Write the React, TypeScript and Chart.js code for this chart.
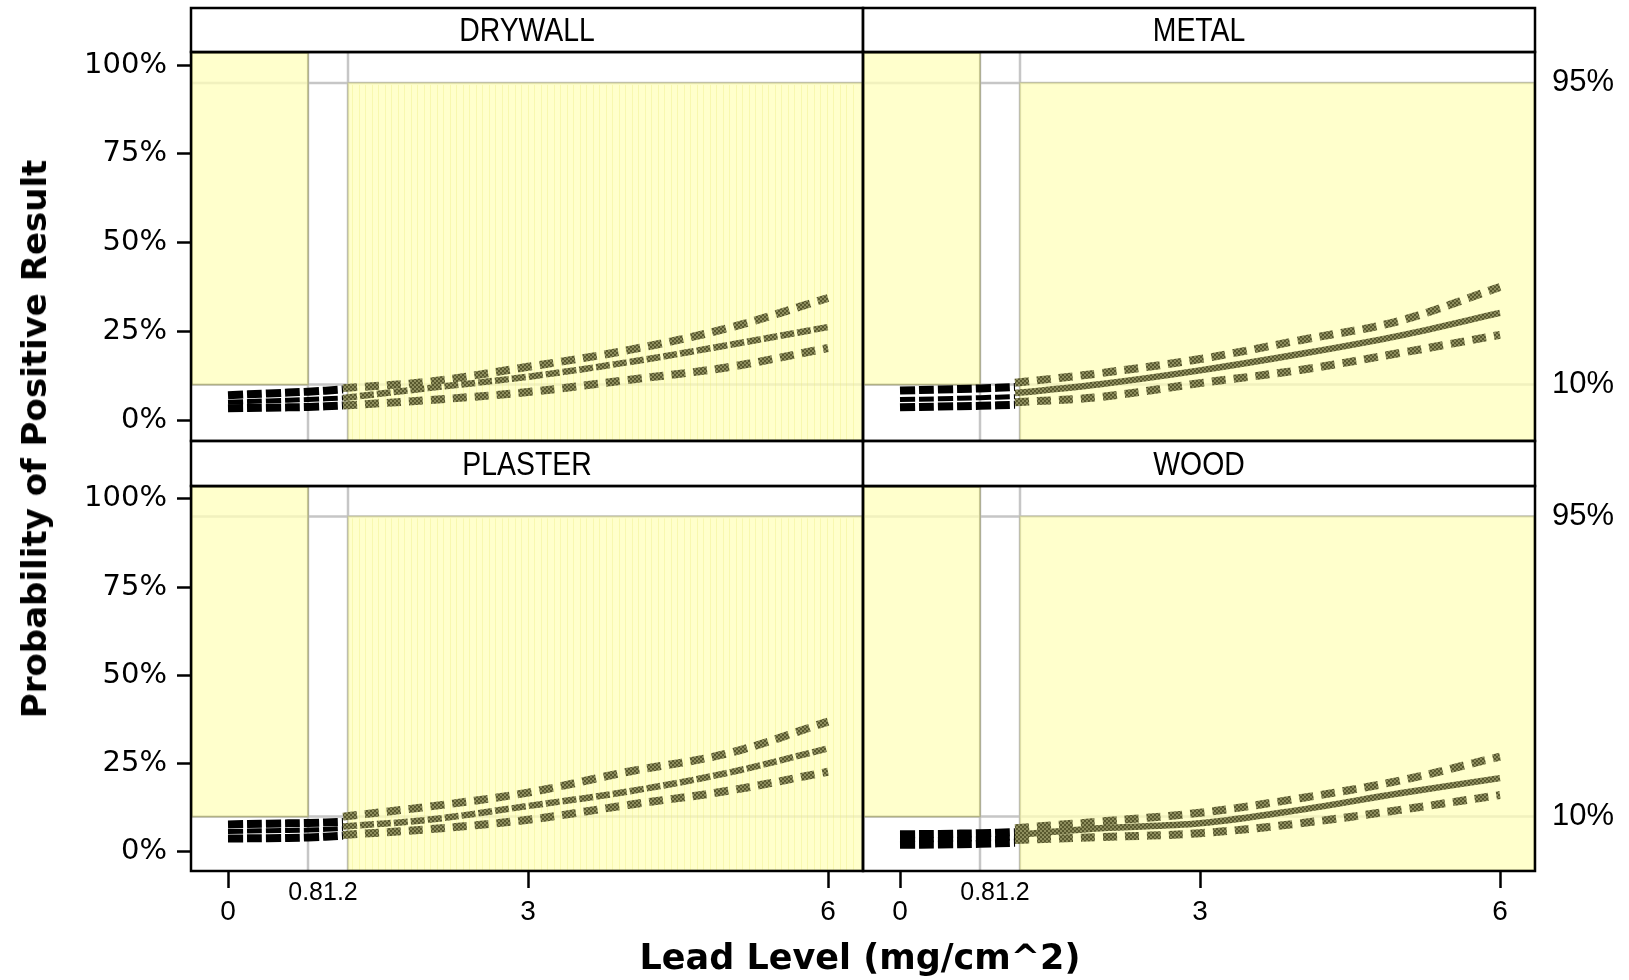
import React, { useEffect, useRef } from 'react';
import { Chart, registerables } from 'chart.js';

Chart.register(...registerables);

// ---------------- data ----------------
const panelNames = ['DRYWALL', 'METAL', 'PLASTER', 'WOOD'];
const xTickValues = [0, 3, 6];
const xRefValues = [0.8, 1.2];
const xRefLabels = ['0.8', '1.2'];
const yTickValues = [0, 25, 50, 75, 100];
const yRefValues = [10, 95];
const yRefLabels = ['10%', '95%'];
const yAxisTitle = 'Probability of Positive Result';
const xAxisTitle = 'Lead Level (mg/cm^2)';

const blackX = [0, 0.4, 0.8, 1.15];
const oliveX = [1.15, 2, 3, 4, 5, 6];

const drywallBlackUpper = [7.0, 7.5, 8.0, 8.6];
const drywallBlackMid = [5.0, 5.4, 5.8, 6.2];
const drywallBlackLower = [3.3, 3.5, 3.7, 4.1];
const drywallUpper = [9.0, 10.8, 15.0, 19.7, 25.9, 34.4];
const drywallMid = [6.2, 9.0, 12.2, 16.3, 21.1, 26.2];
const drywallLower = [4.1, 5.6, 7.9, 11.3, 14.9, 20.3];

const metalBlackUpper = [8.3, 8.6, 8.9, 9.3];
const metalBlackMid = [5.8, 6.0, 6.3, 6.6];
const metalBlackLower = [3.6, 3.8, 4.0, 4.3];
const metalUpper = [10.5, 13.2, 17.2, 22.5, 28.0, 37.5];
const metalMid = [7.6, 10.1, 14.0, 18.6, 23.8, 30.2];
const metalLower = [5.0, 6.5, 10.4, 14.1, 18.9, 24.0];

const plasterBlackUpper = [7.8, 8.0, 8.2, 8.5];
const plasterBlackMid = [5.8, 6.0, 6.2, 6.6];
const plasterBlackLower = [3.8, 3.9, 4.1, 4.6];
const plasterUpper = [10.0, 12.8, 16.8, 22.7, 27.9, 36.9];
const plasterMid = [7.2, 9.1, 13.0, 17.1, 22.4, 29.3];
const plasterLower = [4.8, 6.4, 9.1, 13.3, 17.3, 22.7];

const woodBlackUpper = [5.0, 5.1, 5.3, 5.6];
const woodBlackMid = [3.4, 3.5, 3.7, 3.9];
const woodBlackLower = [2.0, 2.1, 2.3, 2.6];
const woodUpper = [6.7, 8.6, 11.1, 15.2, 20.2, 27.0];
const woodMid = [4.8, 6.7, 8.1, 11.9, 16.6, 20.9];
const woodLower = [3.4, 4.2, 5.3, 8.1, 11.9, 16.1];

const panelSeries = [
  { bu: drywallBlackUpper, bm: drywallBlackMid, bl: drywallBlackLower, u: drywallUpper, m: drywallMid, l: drywallLower, striped: true },
  { bu: metalBlackUpper, bm: metalBlackMid, bl: metalBlackLower, u: metalUpper, m: metalMid, l: metalLower, striped: false },
  { bu: plasterBlackUpper, bm: plasterBlackMid, bl: plasterBlackLower, u: plasterUpper, m: plasterMid, l: plasterLower, striped: true },
  { bu: woodBlackUpper, bm: woodBlackMid, bl: woodBlackLower, u: woodUpper, m: woodMid, l: woodLower, striped: false },
];

// ---------------- layout ----------------
const W = 1629;
const H = 980;
const colL = [191, 863];
const colR = [863, 1535];
const rowT = [52, 486];
const rowB = [441, 871];
const headT = [8, 441];
const yRange = [[-5.9, 103.7], [-5.4, 103.6]];
const xRange = [-0.37, 6.35];
const LEFT_AXIS_W = 150;
const RIGHT_AXIS_W = 94;
const BOTTOM_AXIS_H = 80;
const SANS = '"Liberation Sans", Arial, sans-serif';

function makeHatch(): any {
  const c = document.createElement('canvas');
  c.width = 4;
  c.height = 4;
  const g = c.getContext('2d');
  if (!g) return '#76764a';
  g.fillStyle = '#8e8e5e';
  g.fillRect(0, 0, 4, 4);
  g.fillStyle = '#58582e';
  g.fillRect(0, 0, 2, 2);
  g.fillRect(2, 2, 2, 2);
  return g.createPattern(c, 'repeat') || '#76764a';
}

function pts(xs: number[], ys: number[]) {
  return xs.map((x, i) => ({ x, y: ys[i] }));
}

function makeDecor(name: string, striped: boolean, showXRef: boolean, headerTop: number) {
  return {
    id: 'decor',
    beforeDatasetsDraw(chart: any) {
      const { ctx, chartArea: a, scales } = chart;
      const xs = scales.x;
      const ys = scales.y;
      ctx.save();
      ctx.strokeStyle = '#c6c6c6';
      ctx.lineWidth = 2.5;
      xRefValues.forEach((v) => {
        const px = xs.getPixelForValue(v);
        ctx.beginPath();
        ctx.moveTo(px, a.top);
        ctx.lineTo(px, a.bottom);
        ctx.stroke();
      });
      yRefValues.forEach((v) => {
        const py = ys.getPixelForValue(v);
        ctx.beginPath();
        ctx.moveTo(a.left, py);
        ctx.lineTo(a.right, py);
        ctx.stroke();
      });
      const x08 = xs.getPixelForValue(xRefValues[0]);
      const x12 = xs.getPixelForValue(xRefValues[1]);
      const y10 = ys.getPixelForValue(yRefValues[0]);
      const y95 = ys.getPixelForValue(yRefValues[1]);
      ctx.fillStyle = 'rgba(255,255,187,0.75)';
      ctx.fillRect(a.left, a.top, x08 - a.left, y10 - a.top);
      ctx.fillRect(x12, y95, a.right - x12, a.bottom - y95);
      if (striped) {
        ctx.strokeStyle = 'rgba(236,236,120,0.35)';
        ctx.lineWidth = 1;
        for (let x = x12 + 4; x < a.right - 4; x += 6.5) {
          ctx.beginPath();
          ctx.moveTo(Math.round(x) + 0.5, y95 + 2);
          ctx.lineTo(Math.round(x) + 0.5, a.bottom);
          ctx.stroke();
        }
      }
      ctx.strokeStyle = 'rgba(140,140,80,0.55)';
      ctx.lineWidth = 1.5;
      ctx.strokeRect(a.left + 1, a.top + 1, x08 - a.left - 1, y10 - a.top - 1);
      ctx.strokeStyle = 'rgba(170,170,100,0.35)';
      ctx.strokeRect(x12, y95, a.right - x12 - 1, a.bottom - y95 - 1);
      ctx.restore();
    },
    afterDraw(chart: any) {
      const { ctx, chartArea: a, scales } = chart;
      ctx.save();
      ctx.strokeStyle = '#000';
      ctx.lineWidth = 2.5;
      ctx.strokeRect(a.left, a.top, a.right - a.left, a.bottom - a.top);
      ctx.fillStyle = '#fff';
      ctx.fillRect(a.left + 1.5, headerTop + 1.5, a.right - a.left - 3, a.top - headerTop - 3);
      ctx.strokeRect(a.left, headerTop, a.right - a.left, a.top - headerTop);
      ctx.fillStyle = '#000';
      ctx.textAlign = 'center';
      ctx.textBaseline = 'middle';
      // header text: slightly condensed face
      ctx.save();
      const cx = (a.left + a.right) / 2;
      const cy = (headerTop + a.top) / 2 + 2;
      ctx.translate(cx, cy);
      ctx.scale(0.86, 1);
      ctx.font = '33px ' + SANS;
      ctx.fillText(name, 0, 0);
      ctx.restore();
      if (showXRef) {
        // the two reference labels collide and are drawn touching, centred slightly left of their midpoint
        ctx.font = '25px ' + SANS;
        const p0 = scales.x.getPixelForValue(xRefValues[0]);
        const p1 = scales.x.getPixelForValue(xRefValues[1]);
        const mid = (p0 + p1) / 2 - 5;
        ctx.textAlign = 'right';
        ctx.fillText(xRefLabels[0], mid, a.bottom + 22);
        ctx.textAlign = 'left';
        ctx.fillText(xRefLabels[1], mid, a.bottom + 22);
      }
      ctx.restore();
    },
  };
}

function buildConfig(i: number): any {
  const r = i >> 1;
  const c = i & 1;
  const s = panelSeries[i];
  const hatch = makeHatch();
  const [ymin, ymax] = yRange[r];
  const datasets = [
    { data: pts(oliveX, s.l), borderColor: hatch, borderWidth: 8, borderDash: [14, 8] },
    { data: pts(oliveX, s.u), borderColor: hatch, borderWidth: 8, borderDash: [14, 8] },
    { data: pts(oliveX, s.m), borderColor: hatch, borderWidth: 6.5, borderDash: s.striped ? [14, 3] : [] },
    { data: pts(blackX, s.bl), borderColor: '#000', borderWidth: 8, borderDash: [15, 4] },
    { data: pts(blackX, s.bu), borderColor: '#000', borderWidth: 8, borderDash: [15, 4] },
    { data: pts(blackX, s.bm), borderColor: '#000', borderWidth: 5, borderDash: [15, 4] },
  ].map((d) => ({ ...d, pointRadius: 0, tension: 0.35, fill: false, borderCapStyle: 'butt' }));

  const scales: any = {
    x: {
      type: 'linear',
      min: xRange[0],
      max: xRange[1],
      display: r === 1,
      afterBuildTicks: (sc: any) => {
        sc.ticks = xTickValues.map((v) => ({ value: v }));
      },
      afterFit: (sc: any) => {
        if (r === 1) sc.height = BOTTOM_AXIS_H;
      },
      grid: { drawOnChartArea: false, drawTicks: true, tickLength: 17, tickWidth: 2.5, tickColor: '#000' },
      border: { display: false },
      ticks: { color: '#000', font: { family: SANS, size: 28 }, padding: 7, maxRotation: 0, autoSkip: false },
    },
    y: {
      type: 'linear',
      position: 'left',
      min: ymin,
      max: ymax,
      display: c === 0,
      afterBuildTicks: (sc: any) => {
        sc.ticks = yTickValues.map((v) => ({ value: v }));
      },
      afterFit: (sc: any) => {
        if (c === 0) sc.width = LEFT_AXIS_W;
      },
      grid: { drawOnChartArea: false, drawTicks: true, tickLength: 14, tickWidth: 2.5, tickColor: '#000' },
      border: { display: false },
      ticks: { color: '#000', font: { family: '"DejaVu Sans", sans-serif', size: 29 }, padding: 10, callback: (v: any) => v + '%' },
    },
  };
  if (c === 1) {
    scales.y2 = {
      type: 'linear',
      position: 'right',
      min: ymin,
      max: ymax,
      afterBuildTicks: (sc: any) => {
        sc.ticks = yRefValues.map((v) => ({ value: v }));
      },
      afterFit: (sc: any) => {
        sc.width = RIGHT_AXIS_W;
      },
      grid: { display: false, drawOnChartArea: false, drawTicks: false },
      border: { display: false },
      ticks: {
        color: '#000',
        font: { family: SANS, size: 31 },
        padding: 17,
        callback: (v: any) => yRefLabels[yRefValues.indexOf(v)] ?? v + '%',
      },
    };
  }

  const padding = {
    left: c === 0 ? colL[0] - LEFT_AXIS_W : colL[1],
    right: c === 1 ? W - colR[1] - RIGHT_AXIS_W : W - colR[0],
    top: rowT[r],
    bottom: r === 1 ? H - rowB[1] - BOTTOM_AXIS_H : H - rowB[0],
  };

  return {
    type: 'line',
    data: { datasets },
    options: {
      animation: false,
      responsive: false,
      devicePixelRatio: 1,
      events: [],
      layout: { padding },
      plugins: { legend: { display: false }, tooltip: { enabled: false }, title: { display: false } },
      scales,
    },
    plugins: [makeDecor(panelNames[i], s.striped, r === 1, headT[r])],
  };
}

function Panel({ index }: { index: number }) {
  const ref = useRef<HTMLCanvasElement | null>(null);
  useEffect(() => {
    if (!ref.current) return;
    const chart = new Chart(ref.current, buildConfig(index));
    return () => chart.destroy();
  }, [index]);
  return (
    <canvas
      ref={ref}
      width={W}
      height={H}
      style={{ position: 'absolute', left: 0, top: 0, width: W, height: H }}
    />
  );
}

export default function App() {
  return (
    <div style={{ position: 'absolute', left: 0, top: 0, width: W, height: H, overflow: 'hidden', background: '#fff' }}>
      {[0, 1, 2, 3].map((i) => (
        <Panel key={i} index={i} />
      ))}
      <div
        style={{
          position: 'absolute',
          left: 34,
          top: 439,
          transform: 'translate(-50%, -50%) rotate(-90deg)',
          font: 'bold 34px "DejaVu Sans", sans-serif',
          whiteSpace: 'nowrap',
          color: '#000',
        }}
      >
        {yAxisTitle}
      </div>
      <div
        style={{
          position: 'absolute',
          left: 860,
          top: 957,
          transform: 'translate(-50%, -50%)',
          font: 'bold 35px "DejaVu Sans", sans-serif',
          whiteSpace: 'nowrap',
          color: '#000',
        }}
      >
        {xAxisTitle}
      </div>
    </div>
  );
}
